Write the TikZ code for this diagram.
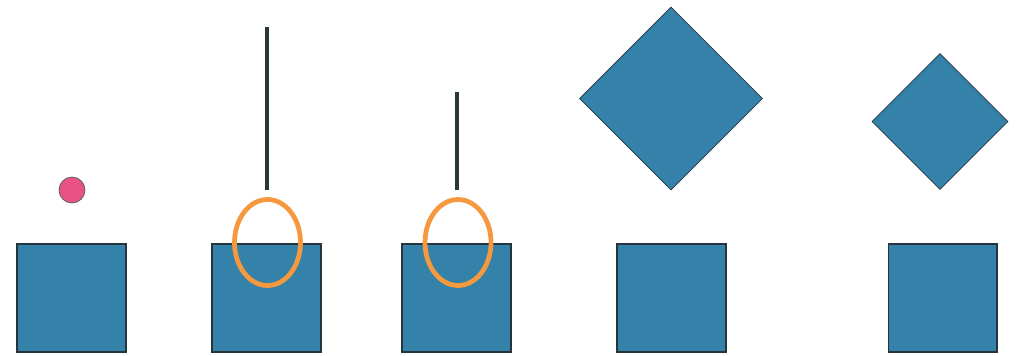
\documentclass[tikz,border=0pt]{standalone}
\usepackage{tikz}
\usetikzlibrary{shapes.geometric}
\definecolor{BoxBlue}{RGB}{52, 129, 170}
\definecolor{EdgeDark}{RGB}{38, 52, 62}
\definecolor{BallPink}{RGB}{232, 82, 132}
\definecolor{RingOrange}{RGB}{245, 152, 62}
\definecolor{PinDark}{RGB}{40, 56, 54}

\tikzset{
    block/.style={draw=EdgeDark, fill=BoxBlue, line width=0.6pt, inner sep=0pt, minimum width=2.18cm, minimum height=2.16cm},
    tilt/.style={draw=EdgeDark, fill=BoxBlue, line width=0.4pt, shape=diamond, inner sep=0pt, aspect=1},
    pin/.style={color=PinDark, line width=2.2pt},
    ring/.style={color=RingOrange, line width=2.7pt}
}

\begin{document}
\begin{tikzpicture}[x=0.02cm, y=-0.02cm]
    \useasboundingbox (0, 0) rectangle (1023, 355);

    % bottom blocks
    \node[block] (b1) at (71.5, 298) {};
    \node[block] (b2) at (266.5, 298) {};
    \node[block] (b3) at (456.5, 298) {};
    \node[block] (b4) at (671.5, 298) {};
    \node[block] (b5) at (942.5, 298) {};

    % ball, pins and rings
    \filldraw[fill=BallPink, draw=EdgeDark!80, line width=0.4pt] (72, 190) circle (13);
    \draw[pin] (267, 27) -- (267, 190);
    \draw[pin] (457, 92) -- (457, 190);
    \draw[ring] (267.5, 242.5) ellipse (33 and 43);
    \draw[ring] (458, 242.5) ellipse (33 and 43);

    % tilted blocks
    \node[tilt, minimum width=3.66cm, minimum height=3.66cm] (d4) at (671, 98.5) {};
    \node[tilt, minimum width=2.72cm, minimum height=2.72cm] (d5) at (940, 121.5) {};
\end{tikzpicture}
\end{document}
